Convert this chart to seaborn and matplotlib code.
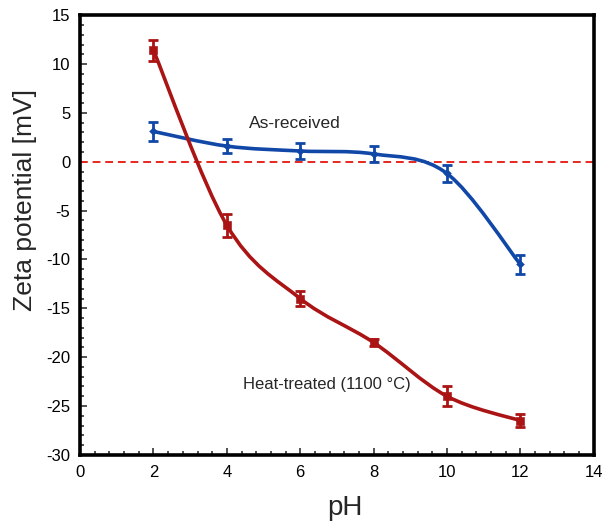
import numpy as np
import pandas as pd
import seaborn as sns
import matplotlib.pyplot as plt
from matplotlib.path import Path
from matplotlib.patches import PathPatch

# data
ph = [2, 4, 6, 8, 10, 12]
zeta_heat = [11.4, -6.5, -14.0, -18.5, -24.0, -26.5]
err_heat = [1.1, 1.2, 0.8, 0.4, 1.0, 0.7]
zeta_asrec = [3.1, 1.6, 1.1, 0.8, -1.2, -10.5]
err_asrec = [1.0, 0.7, 0.8, 0.8, 0.9, 1.0]

red = "#ab1414"
blue = "#1148a8"

sns.set_style("ticks")
plt.rcParams['font.family'] = ['Liberation Sans', 'DejaVu Sans']
plt.rcParams['axes.unicode_minus'] = False

fig = plt.figure(figsize=(6.07, 5.24), dpi=100)
ax = fig.add_axes([0.132, 0.132, 0.846, 0.839])


def smooth_path(x, y, t=1/6):
    # cubic bezier through the points (excel style smoothed line)
    verts = [(x[0], y[0])]
    codes = [Path.MOVETO]
    n = len(x)
    for i in range(n - 1):
        x0, y0 = (x[i - 1], y[i - 1]) if i > 0 else (x[i], y[i])
        x3, y3 = (x[i + 2], y[i + 2]) if i + 2 < n else (x[i + 1], y[i + 1])
        c1 = (x[i] + (x[i + 1] - x0) * t, y[i] + (y[i + 1] - y0) * t)
        c2 = (x[i + 1] - (x3 - x[i]) * t, y[i + 1] - (y3 - y[i]) * t)
        verts += [c1, c2, (x[i + 1], y[i + 1])]
        codes += [Path.CURVE4] * 3
    return Path(verts, codes)


ax.axhline(0, color="#e8261e", lw=1.4, ls=(0, (4, 2.5)), zorder=1)

for y, e, c, m, ms in [(zeta_asrec, err_asrec, blue, "D", 4),
                       (zeta_heat, err_heat, red, "s", 5.5)]:
    ax.add_patch(PathPatch(smooth_path(ph, y), fc="none", ec=c, lw=2.6, zorder=2))
    ax.errorbar(ph, y, yerr=e, fmt="none", ecolor=c, elinewidth=2,
                capsize=3.5, capthick=2, zorder=3)
    sns.scatterplot(x=ph, y=y, ax=ax, marker=m, s=ms ** 2, color=c,
                    edgecolor=c, zorder=4)

ax.text(4.6, 3.9, "As-received", fontsize=12.5, va="center", ha="left")
ax.text(4.45, -22.8, "Heat-treated (1100 \u00b0C)", fontsize=12,
        va="center", ha="left")

ax.set_xlim(0, 14)
ax.set_ylim(-30, 15)
ax.set_xticks(np.arange(0, 15, 2))
ax.set_yticks(np.arange(-30, 16, 5))
ax.set_xticks(np.arange(0, 14.01, 0.4), minor=True)
ax.set_yticks(np.arange(-30, 15.01, 1), minor=True)
ax.tick_params(which="both", direction="in", top=False, right=False,
               labelsize=12, width=1.2, colors="#333333", labelcolor="black")
ax.tick_params(which="major", length=5, pad=7)
ax.tick_params(which="minor", length=3)
for s in ax.spines.values():
    s.set_linewidth(2.6)
    s.set_color("black")

ax.set_xlabel("pH", fontsize=20)
ax.set_ylabel("Zeta potential [mV]", fontsize=19)
ax.xaxis.set_label_coords(0.515, -0.12)
ax.yaxis.set_label_coords(-0.108, 0.58)
ax.xaxis.label.set_va("center")
ax.yaxis.label.set_va("center")

fig.savefig("out.png", dpi=100)
